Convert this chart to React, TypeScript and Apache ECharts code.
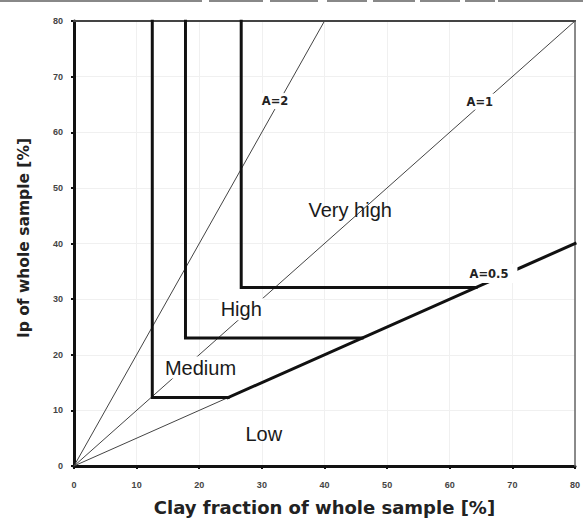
import React, { useEffect, useRef } from "react";
import * as echarts from "echarts";

// Axis ticks
const xTickValues = [0, 10, 20, 30, 40, 50, 60, 70, 80];
const yTickValues = [0, 10, 20, 30, 40, 50, 60, 70, 80];

// Thin activity lines (A = Ip / clay fraction)
const a2Line = [[0, 0], [40, 80]];
const a1Line = [[0, 0], [80, 80]];
const aHalfThinLine = [[0, 0], [24.6, 12.3]];
const aHalfThickLine = [[24.6, 12.3], [80, 40]];

// Thick class boundaries
const mediumBoundary = [[12.5, 80], [12.5, 12.3], [24.6, 12.3]];
const highBoundary = [[17.8, 80], [17.8, 23], [46, 23]];
const veryHighBoundary = [[26.7, 80], [26.7, 32.1], [64.2, 32.1]];

// Frame
const frameTop = [[0, 80], [80, 80]];
const frameRight = [[80, 0], [80, 80]];

// Class labels
const classNames = ["Very high", "High", "Medium", "Low"];
const classX = [44.1, 26.7, 20.2, 30.3];
const classY = [46.0, 28.2, 17.7, 5.7];
const classBg = [false, true, true, false];

// Activity labels
const slopeNames = ["A=2", "A=1", "A=0.5"];
const slopeX = [32.1, 64.8, 66.9];
const slopeY = [65.6, 65.5, 34.6];

// Top strip (scan artefact)
const stripStarts = [0, 209, 270, 327, 373, 420, 465, 498];
const stripEnds = [202, 263, 318, 367, 415, 460, 495, 583];

const FONT = "'Liberation Sans', Arial, sans-serif";
const TITLE_FONT = "'DejaVu Sans', sans-serif";

export default function App() {
  const ref = useRef<HTMLDivElement>(null);
  useEffect(() => {
    if (!ref.current) return;
    const chart = echarts.init(ref.current, undefined, { renderer: "svg" });

    const line = (data: number[][], width: number, color: string, z = 2) => ({
      type: "line",
      data,
      showSymbol: false,
      symbol: "none",
      silent: true,
      z,
      lineStyle: { color, width, cap: "square", join: "miter" },
    });

    const classData = classNames.map((n, i) => ({
      value: [classX[i], classY[i]],
      name: n,
      label: classBg[i]
        ? { backgroundColor: "#ffffff", padding: [1, 2] }
        : { padding: 0 },
    }));
    const slopeData = slopeNames.map((n, i) => ({
      value: [slopeX[i], slopeY[i]],
      name: n,
      label: i === 2 ? { padding: [1, 9, 6, 1] } : { padding: [2, 2] },
    }));

    chart.setOption({
      animation: false,
      backgroundColor: "#ffffff",
      grid: { left: 74, right: 6, top: 21, bottom: 56, containLabel: false },
      xAxis: {
        type: "value",
        min: 0,
        max: 80,
        interval: 10,
        name: "Clay fraction of whole sample [%]",
        nameLocation: "middle",
        nameGap: 32,
        nameTextStyle: { fontFamily: TITLE_FONT, fontSize: 18, fontWeight: "bold", color: "#222" },
        axisLine: { show: true, lineStyle: { color: "#111", width: 3 } },
        axisTick: { show: true, length: 3, inside: false, lineStyle: { color: "#111", width: 2 } },
        axisLabel: {
          fontFamily: FONT,
          fontSize: 9,
          fontWeight: "bold",
          color: "#444",
          margin: 14,
          formatter: (v: number) => (xTickValues.includes(v) ? String(v) : ""),
        },
        splitLine: { show: true, lineStyle: { color: "#f0f0f0", width: 1 } },
      },
      yAxis: {
        type: "value",
        min: 0,
        max: 80,
        interval: 10,
        name: "Ip of whole sample [%]",
        nameLocation: "middle",
        nameGap: 42,
        nameTextStyle: {
          fontFamily: TITLE_FONT,
          fontSize: 15.5,
          fontWeight: "bold",
          color: "#222",
          padding: [0, 0, 0, 11],
        },
        axisLine: { show: true, lineStyle: { color: "#111", width: 3 } },
        axisTick: { show: true, length: 3, inside: false, lineStyle: { color: "#111", width: 2 } },
        axisLabel: {
          fontFamily: FONT,
          fontSize: 9,
          fontWeight: "bold",
          color: "#444",
          margin: 11,
          formatter: (v: number) => (yTickValues.includes(v) ? String(v) : ""),
        },
        splitLine: { show: true, lineStyle: { color: "#f0f0f0", width: 1 } },
      },
      series: [
        line(frameTop, 2, "#444", 1),
        line(frameRight, 1.5, "#666", 1),
        line(a2Line, 1, "#444"),
        line(a1Line, 1, "#444"),
        line(aHalfThinLine, 1, "#444"),
        line(aHalfThickLine, 3, "#111", 3),
        line(mediumBoundary, 3, "#111", 3),
        line(highBoundary, 3, "#111", 3),
        line(veryHighBoundary, 3, "#111", 3),
        {
          type: "scatter",
          data: classData,
          symbolSize: 1,
          itemStyle: { color: "rgba(0,0,0,0)" },
          silent: true,
          z: 5,
          label: {
            show: true,
            position: "inside",
            formatter: (p: any) => p.name,
            fontFamily: FONT,
            fontSize: 20,
            color: "#1a1a1a",
            opacity: 1,
          },
        },
        {
          type: "scatter",
          data: slopeData,
          symbolSize: 1,
          itemStyle: { color: "rgba(0,0,0,0)" },
          silent: true,
          z: 6,
          label: {
            show: true,
            position: "inside",
            formatter: (p: any) => p.name,
            fontFamily: TITLE_FONT,
            fontSize: 11.5,
            fontWeight: "bold",
            color: "#222",
            opacity: 1,
            backgroundColor: "#ffffff",
          },
        },
      ],
      graphic: stripStarts.map((s, i) => ({
        type: "rect",
        shape: { x: s, y: 0, width: stripEnds[i] - s, height: 2 },
        style: { fill: "#888" },
        silent: true,
      })),
    });

    return () => chart.dispose();
  }, []);

  return <div ref={ref} style={{ width: 583, height: 522, position: "absolute", left: 0, top: 0 }} />;
}
